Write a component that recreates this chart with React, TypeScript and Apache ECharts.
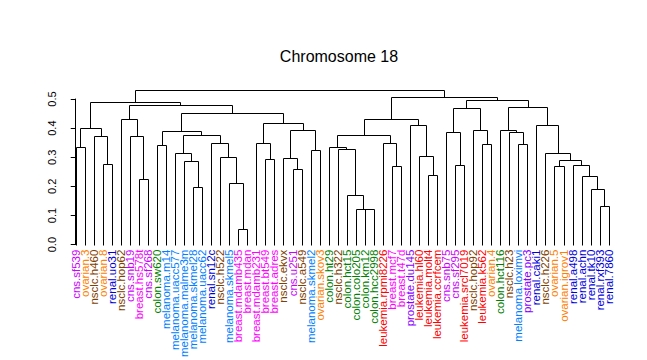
import React, { useEffect, useRef } from "react";
import * as echarts from "echarts";

const leafLabels: string[] = [
  "cns.sf539", "ovarian.3", "nsclc.h460", "ovarian.8", "renal.uo31", "nsclc.hop62",
  "cns.snb19", "breast.hs578t", "cns.sf268", "colon.sw620", "melanoma.m14",
  "melanoma.uacc577", "melanoma.malme3m", "melanoma.skmel28", "melanoma.uacc62",
  "renal.sn12c", "nsclc.h522", "melanoma.skmel5", "breast.mdamb435", "breast.mdan",
  "breast.mdamb231", "breast.bt549", "breast.adres", "nsclc.ekvx", "cns.u251",
  "nsclc.a549", "melanoma.skmel2", "ovarian.skov3", "colon.ht29", "nsclc.h322",
  "colon.hct15", "colon.colo205", "colon.km12", "colon.hcc2998", "leukemia.rpmi8226",
  "breast.mcf7", "breast.t47d", "prostate.du145", "leukemia.hl60", "leukemia.molt4",
  "leukemia.ccrfcem", "cns.snb75", "cns.sf295", "leukemia.srcl7019", "nsclc.hop92",
  "leukemia.k562", "ovarian.4", "colon.hct116", "nsclc.h23", "melanoma.loximvi",
  "prostate.pc3", "renal.caki1", "nsclc.h226", "ovarian.5", "ovarian.igrov1",
  "renal.a498", "renal.achn", "renal.tk10", "renal.rxf393", "renal.7860",
];

// R hclust-style merge pairs: -k = leaf k (1-based), +m = merge m (1-based)
const mergePairs: [number, number][] = [
  [-19, -20], [-33, -34], [-32, 2], [-59, -60], [-31, 3], [-58, 4], [-14, -15],
  [-18, 1], [-8, -9], [-57, 6], [-40, -41], [-25, -26], [-36, -37], [-54, -55],
  [-4, -5], [-43, -44], [-56, 10], [-13, 7], [14, 17], [-22, -23], [-24, 12],
  [-17, 8], [-39, 11], [-12, 18], [-53, 19], [-27, -28], [-30, 5], [-1, -2],
  [-29, 27], [-10, -11], [-35, 13], [-16, 22], [-21, 20], [-46, -47], [-50, -51],
  [-3, 15], [-7, 9], [24, 32], [29, 31], [-42, 16], [-49, 35], [30, 38],
  [-45, 34], [-48, 41], [21, 26], [28, 36], [-38, 23], [-52, 25], [33, 45],
  [-6, 37], [39, 47], [42, 49], [40, 43], [44, 48], [50, 52], [46, 55],
  [53, 54], [51, 57], [56, 58],
];

const mergeHeights: number[] = [
  0.052, 0.122, 0.123, 0.133, 0.170, 0.190, 0.199,
  0.212, 0.227, 0.237, 0.240, 0.260, 0.271, 0.271,
  0.277, 0.274, 0.274, 0.287, 0.291, 0.294, 0.297,
  0.301, 0.304, 0.314, 0.314, 0.325, 0.328, 0.335,
  0.336, 0.343, 0.348, 0.348, 0.348, 0.345, 0.345,
  0.374, 0.374, 0.377, 0.378, 0.385, 0.387, 0.391,
  0.392, 0.392, 0.395, 0.402, 0.412, 0.412, 0.419,
  0.432, 0.432, 0.452, 0.469, 0.473, 0.480, 0.488,
  0.496, 0.506, 0.530,
];

const yTicks: number[] = [0, 0.1, 0.2, 0.3, 0.4, 0.5];

const groupColors: Record<string, string> = {
  cns: "#CC00FF",
  breast: "#FF00FF",
  ovarian: "#FF8000",
  nsclc: "#804000",
  renal: "#0000DD",
  colon: "#008000",
  melanoma: "#0080FF",
  leukemia: "#FF0000",
  prostate: "#8800FF",
};

const FONT = "'Liberation Sans', Arial, sans-serif";

function buildSegments() {
  const mx: number[] = [];
  const segs: number[][] = [];
  const pos = (ref: number): [number, number] => {
    if (ref < 0) return [-ref - 1, 0];
    return [mx[ref - 1], mergeHeights[ref - 1]];
  };
  mergePairs.forEach(([a, b], i) => {
    const [xa, ha] = pos(a);
    const [xb, hb] = pos(b);
    const h = mergeHeights[i];
    mx.push((xa + xb) / 2);
    segs.push([xa, ha, xb, hb, h]);
  });
  return segs;
}

export default function App() {
  const ref = useRef<HTMLDivElement>(null);
  useEffect(() => {
    if (!ref.current) return;
    const chart = echarts.init(ref.current, null, { renderer: "svg" });
    const segs = buildSegments();
    const crisp = (p: number[]) => [Math.round(p[0]) + 0.5, Math.round(p[1]) + 0.5];
    chart.setOption({
      animation: false,
      backgroundColor: "#ffffff",
      graphic: [
        {
          type: "text",
          x: 339,
          y: 56,
          style: {
            text: "Chromosome 18",
            font: `16px ${FONT}`,
            fill: "#000",
            textAlign: "center",
            textVerticalAlign: "middle",
          },
        },
      ],
      grid: { left: 66.7, right: 29.3, top: 99, bottom: 112.3, containLabel: false },
      xAxis: {
        type: "value",
        min: -1,
        max: 60,
        interval: 1,
        splitLine: { show: false },
        axisLine: { show: false },
        axisTick: { show: false },
        axisLabel: {
          rotate: 90,
          margin: 5,
          fontSize: 11.5,
          fontFamily: FONT,
          formatter: (v: number) => {
            const i = Math.round(Number(v));
            return i >= 0 && i < leafLabels.length ? leafLabels[i] : "";
          },
          color: (v: any) => {
            const i = Math.round(Number(v));
            const lab = leafLabels[i] || "";
            return groupColors[lab.split(".")[0]] || "#000";
          },
        },
      },
      yAxis: {
        type: "value",
        min: yTicks[0],
        max: yTicks[yTicks.length - 1],
        interval: 0.1,
        splitLine: { show: false },
        axisLine: { show: true, lineStyle: { color: "#000", width: 1 } },
        axisTick: { show: true, length: 5, lineStyle: { color: "#000", width: 1 } },
        axisLabel: {
          rotate: 90,
          margin: 9,
          fontSize: 11,
          fontFamily: FONT,
          color: "#000",
          formatter: (v: number) => Number(v).toFixed(1),
        },
      },
      series: [
        {
          type: "custom",
          clip: false,
          encode: { x: [0, 2], y: [1, 3, 4] },
          data: segs,
          renderItem: (params: any, api: any) => {
            const p1 = crisp(api.coord([api.value(0), api.value(1)]));
            const p2 = crisp(api.coord([api.value(0), api.value(4)]));
            const p3 = crisp(api.coord([api.value(2), api.value(4)]));
            const p4 = crisp(api.coord([api.value(2), api.value(3)]));
            return {
              type: "polyline",
              shape: { points: [p1, p2, p3, p4] },
              style: { stroke: "#000", lineWidth: 1, fill: null },
            };
          },
        },
      ],
    });
    return () => chart.dispose();
  }, []);
  return (
    <div
      ref={ref}
      style={{ position: "fixed", left: 0, top: 0, width: 647, height: 360, background: "#fff" }}
    />
  );
}
